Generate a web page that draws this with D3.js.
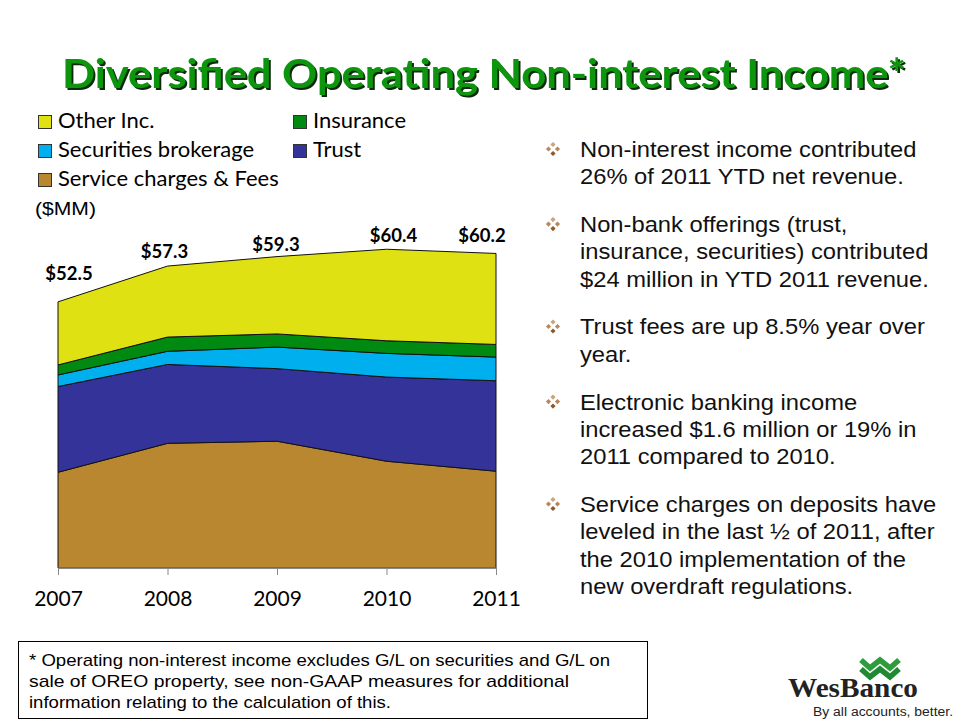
<!DOCTYPE html>
<html>
<head>
<meta charset="utf-8">
<script src="https://cdn.jsdelivr.net/npm/d3@7"></script>
<style>
  html, body { margin: 0; padding: 0; background: #fff; }
  svg { display: block; }
</style>
</head>
<body>
<svg id="chart" width="960" height="720"></svg>
<script>
// ---------------- DATA ----------------
const years = ["2007", "2008", "2009", "2010", "2011"];
const serviceCharges = [18.2, 23.7, 24.1, 20.3, 18.4];
const trust = [16.3, 15.0, 13.8, 16.0, 17.2];
const securities = [2.2, 2.5, 4.1, 4.5, 4.5];
const insurance = [1.9, 2.7, 2.5, 2.4, 2.4];
const otherInc = [12.0, 13.5, 14.7, 17.4, 17.3];
const totalLabels = ["$52.5", "$57.3", "$59.3", "$60.4", "$60.2"];
const seriesNames = ["Service charges & Fees", "Trust", "Securities brokerage", "Insurance", "Other Inc."];
const legendOrder = ["Other Inc.", "Insurance", "Securities brokerage", "Trust", "Service charges & Fees"];
const bullets = [
  ["Non-interest income contributed", "26% of 2011 YTD net revenue."],
  ["Non-bank offerings (trust,", "insurance, securities) contributed", "$24 million in YTD 2011 revenue."],
  ["Trust fees are up 8.5% year over", "year."],
  ["Electronic banking income", "increased $1.6 million or 19% in", "2011 compared to 2010."],
  ["Service charges on deposits have", "leveled in the last \u00BD of 2011, after", "the 2010 implementation of the", "new overdraft regulations."]
];
const footnote = [
  "* Operating non-interest income excludes G/L on securities and G/L on",
  "sale of OREO property, see non-GAAP measures for additional",
  "information relating to the calculation of this."
];

// ---------------- STYLE ----------------
const colors = {
  "Other Inc.": "#dfe112",
  "Insurance": "#008a12",
  "Securities brokerage": "#00b0ee",
  "Trust": "#333399",
  "Service charges & Fees": "#b8872f"
};
const labelNudge = [[11, -22], [-3, -8], [-1, -6], [7, -7], [-14, -11]];

const svg = d3.select("#chart");
const defs = svg.append("defs");
const f = defs.append("filter").attr("id", "shadow").attr("x", "-5%").attr("y", "-20%")
  .attr("width", "110%").attr("height", "140%");
f.append("feDropShadow").attr("dx", 2).attr("dy", 2).attr("stdDeviation", 0.6)
  .attr("flood-color", "#0e2a0e").attr("flood-opacity", 1);

// Title
svg.append("text").attr("x", 62).attr("y", 88)
  .attr("font-family", "Lato, 'Open Sans', sans-serif").attr("font-weight", 700)
  .attr("font-size", 40).attr("fill", "#0a960a")
  .attr("filter", "url(#shadow)")
  .attr("textLength", 844).attr("lengthAdjust", "spacingAndGlyphs")
  .text("Diversified Operating Non-interest Income*");

// Scales
const x = d3.scalePoint().domain(years).range([58, 496]);
const y = d3.scaleLinear().domain([0, 60]).range([568, 252.4]);

const table = years.map((yr, i) => ({
  year: yr,
  "Service charges & Fees": serviceCharges[i],
  "Trust": trust[i],
  "Securities brokerage": securities[i],
  "Insurance": insurance[i],
  "Other Inc.": otherInc[i]
}));
const stacked = d3.stack().keys(seriesNames)(table);

const area = d3.area()
  .x(d => x(d.data.year))
  .y0(d => y(d[0]))
  .y1(d => y(d[1]));

svg.append("g").selectAll("path").data(stacked).join("path")
  .attr("d", area)
  .attr("fill", d => colors[d.key])
  .attr("stroke", "#111")
  .attr("stroke-width", 1)
  .attr("stroke-linejoin", "round");

// X axis
const xAxis = d3.axisBottom(x).tickSize(7).tickPadding(16);
const ax = svg.append("g").attr("transform", "translate(0,568)").call(xAxis);
ax.select(".domain").attr("stroke", "#888").attr("d", "M58,0H496");
ax.selectAll(".tick line").attr("stroke", "#888");
ax.selectAll(".tick text").attr("font-family", "Lato, sans-serif")
  .attr("font-size", 21).attr("fill", "#000");

// Total labels
const totals = years.map((yr, i) => serviceCharges[i] + trust[i] + securities[i] + insurance[i] + otherInc[i]);
svg.append("g").selectAll("text").data(totalLabels).join("text")
  .attr("x", (d, i) => x(years[i]) + labelNudge[i][0])
  .attr("y", (d, i) => y(totals[i]) + labelNudge[i][1])
  .attr("text-anchor", "middle")
  .attr("font-family", "Lato, sans-serif").attr("font-weight", 700)
  .attr("font-size", 18.5).attr("fill", "#000")
  .text(d => d);

// Legend
const legendPos = [[38, 115], [293, 115], [38, 144], [293, 144], [38, 173]];
const lg = svg.append("g").selectAll("g").data(legendOrder).join("g")
  .attr("transform", (d, i) => `translate(${legendPos[i][0]},${legendPos[i][1]})`);
lg.append("rect").attr("x", 0.5).attr("y", 0.5).attr("width", 13).attr("height", 13)
  .attr("fill", d => colors[d]).attr("stroke", "#333").attr("stroke-width", 1);
lg.append("text").attr("x", 20).attr("y", 13)
  .attr("font-family", "Lato, sans-serif").attr("font-size", 22).attr("fill", "#000")
  .text(d => d);

// ($MM)
svg.append("text").attr("x", 35).attr("y", 215)
  .attr("font-family", "'Liberation Sans', Arial, sans-serif").attr("font-size", 19)
  .attr("textLength", 61).attr("lengthAdjust", "spacingAndGlyphs")
  .attr("fill", "#000").text("($MM)");

// Bullets
let by = 157;
const bg = svg.append("g");
bullets.forEach((lines, bi) => {
  const g = bg.append("g");
  const cx = 553, cy = by - 8;
  [[0, -4.5, "#c9a57a"], [-4.5, 0, "#b8875a"], [4.5, 0, "#b8875a"], [0, 4.5, "#8c5a2e"]].forEach(p => {
    g.append("path")
      .attr("d", `M${cx + p[0]},${cy + p[1] - 2.6}L${cx + p[0] + 2.6},${cy + p[1]}L${cx + p[0]},${cy + p[1] + 2.6}L${cx + p[0] - 2.6},${cy + p[1]}Z`)
      .attr("fill", p[2]);
  });
  const tg = g.append("g").attr("transform", "translate(580,0) scale(1.105,1)");
  lines.forEach((ln, li) => {
    tg.append("text").attr("x", 0).attr("y", by + li * 27.3)
      .attr("font-family", "'Liberation Sans', Arial, sans-serif").attr("font-size", 21.5)
      .attr("fill", "#111").text(ln);
  });
  by += lines.length * 27.3 + 20.5;
});

// Footnote box
svg.append("rect").attr("x", 18.5).attr("y", 641.5).attr("width", 629).attr("height", 77)
  .attr("fill", "#fff").attr("stroke", "#000").attr("stroke-width", 1);
const fnWidths = [581, 540, 362];
svg.append("g").selectAll("text").data(footnote).join("text")
  .attr("x", 29).attr("y", (d, i) => 666 + i * 21)
  .attr("font-family", "'Liberation Sans Narrow', 'Arial Narrow', 'Liberation Sans', sans-serif")
  .attr("font-size", 17).attr("fill", "#000")
  .attr("textLength", (d, i) => fnWidths[i]).attr("lengthAdjust", "spacingAndGlyphs")
  .text(d => d);

// Logo
const logo = svg.append("g");
[0, 9].forEach((dy, k) => {
  logo.append("path")
    .attr("d", `M861,${660 + dy}L870,${668 + dy}L880,${660 + dy}L890,${668 + dy}L899,${660 + dy}`)
    .attr("fill", "none").attr("stroke", k === 0 ? "#2e9b3c" : "#1f8a32")
    .attr("stroke-width", 5.5).attr("stroke-linejoin", "miter");
});
logo.append("text").attr("x", 788).attr("y", 697)
  .attr("font-family", "'Liberation Serif', 'DejaVu Serif', serif").attr("font-weight", 700)
  .attr("font-size", 27).attr("fill", "#222")
  .attr("textLength", 130).attr("lengthAdjust", "spacingAndGlyphs")
  .text("WesBanco");
logo.append("text").attr("x", 813).attr("y", 715.5)
  .attr("font-family", "'Liberation Sans Narrow', 'Liberation Sans', sans-serif")
  .attr("font-size", 12.5).attr("fill", "#222")
  .attr("textLength", 140).attr("lengthAdjust", "spacingAndGlyphs")
  .text("By all accounts, better.");
</script>
</body>
</html>
